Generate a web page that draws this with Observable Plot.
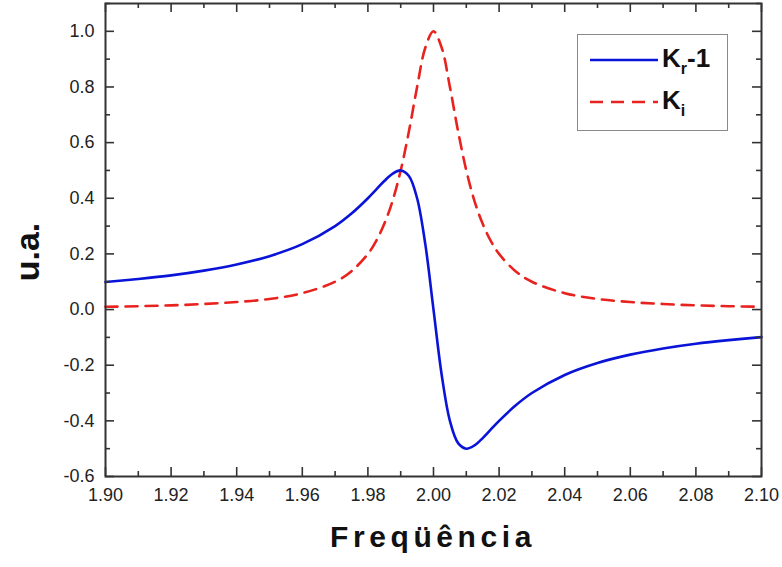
<!DOCTYPE html>
<html>
<head>
<meta charset="utf-8">
<script src="https://cdn.jsdelivr.net/npm/d3@7"></script>
<script src="https://cdn.jsdelivr.net/npm/@observablehq/plot@0.6"></script>
<style>
  html, body { margin: 0; padding: 0; background: #fff; }
  #wrap { position: relative; width: 782px; height: 567px; font-family: "Liberation Sans", Arial, sans-serif; }
  #ylab { position: absolute; left: 27px; top: 252px; transform: translate(-50%, -50%) rotate(-90deg); font-weight: bold; font-size: 34px; color: #111; white-space: nowrap; }
  #xlab { position: absolute; left: 433px; top: 520px; transform: translateX(-50%); font-weight: bold; font-size: 30px; letter-spacing: 4.6px; color: #111; white-space: nowrap; }
  #legend { position: absolute; left: 577px; top: 34px; width: 151px; height: 97px; border: 1px solid #8a8a8a; background: #fff; box-sizing: border-box; }
  .lg { position: absolute; font-weight: bold; font-size: 26px; color: #111; white-space: nowrap; }
  .lg sub { font-size: 16px; vertical-align: -7px; line-height: 0; }
</style>
</head>
<body>
<div id="wrap">
  <div id="chart"></div>
  <div id="ylab">u.a.</div>
  <div id="xlab">Freqüência</div>
  <div id="legend">
    <svg width="151" height="97" style="position:absolute;left:0;top:0">
      <line x1="12" x2="80" y1="25" y2="25" stroke="#0a14d8" stroke-width="2.5"/>
      <line x1="12" x2="80" y1="67" y2="67" stroke="#e8221e" stroke-width="2.5" stroke-dasharray="13,8"/>
    </svg>
    <div class="lg" style="left:84px; top:8px;">K<sub>r</sub>-1</div>
    <div class="lg" style="left:84px; top:50px;">K<sub>i</sub></div>
  </div>
</div>
<script>
// Frequency samples
const freq = [1.90, 1.91, 1.92, 1.93, 1.94, 1.95, 1.96, 1.97, 1.975, 1.98, 1.9825, 1.985, 1.9875, 1.99, 1.9925, 1.995, 1.9975, 2.00,
              2.0025, 2.005, 2.0075, 2.01, 2.0125, 2.015, 2.0175, 2.02, 2.025, 2.03, 2.04, 2.05, 2.06, 2.07, 2.08, 2.09, 2.10];
// Kr - 1 (blue solid)
const krMinus1 = [0.099, 0.110, 0.123, 0.140, 0.162, 0.192, 0.235, 0.300, 0.345, 0.400, 0.431, 0.462, 0.488, 0.500, 0.480, 0.400, 0.235, 0.000,
                  -0.235, -0.400, -0.480, -0.500, -0.488, -0.462, -0.431, -0.400, -0.345, -0.300, -0.235, -0.192, -0.162, -0.140, -0.123, -0.110, -0.099];
// Ki (red dashed)
const ki = [0.010, 0.012, 0.015, 0.020, 0.027, 0.038, 0.059, 0.100, 0.138, 0.200, 0.246, 0.308, 0.390, 0.500, 0.640, 0.800, 0.941, 1.000,
            0.941, 0.800, 0.640, 0.500, 0.390, 0.308, 0.246, 0.200, 0.138, 0.100, 0.059, 0.038, 0.027, 0.020, 0.015, 0.012, 0.010];

const xTicks = [1.90, 1.92, 1.94, 1.96, 1.98, 2.00, 2.02, 2.04, 2.06, 2.08, 2.10];
const xMinor = [1.91, 1.93, 1.95, 1.97, 1.99, 2.01, 2.03, 2.05, 2.07, 2.09];
const yTicks = [-0.6, -0.4, -0.2, 0.0, 0.2, 0.4, 0.6, 0.8, 1.0];
const yMinor = [-0.5, -0.3, -0.1, 0.1, 0.3, 0.5, 0.7, 0.9, 1.1];

const W = 782, H = 567, mL = 105, mR = 21, mT = 3, mB = 91;
const iw = W - mL - mR, ih = H - mT - mB;
const MAJ = 9, MIN = 5;

const krData = freq.map((f, i) => ({f, v: krMinus1[i]}));
const kiData = freq.map((f, i) => ({f, v: ki[i]}));

const ts = {stroke: "#333", strokeWidth: 1.6};

const chart = Plot.plot({
  width: W, height: H,
  marginLeft: mL, marginRight: mR, marginTop: mT, marginBottom: mB,
  style: {fontFamily: "'Liberation Sans', Arial, sans-serif", fontSize: "18px", color: "#222"},
  x: {domain: [1.90, 2.10]},
  y: {domain: [-0.6, 1.1]},
  marks: [
    Plot.line(kiData, {x: "f", y: "v", stroke: "#e8221e", strokeWidth: 2.6, strokeDasharray: "12,8", curve: "catmull-rom"}),
    Plot.line(krData, {x: "f", y: "v", stroke: "#0a14d8", strokeWidth: 2.6, curve: "catmull-rom"}),
    Plot.tickX(xTicks, {x: d => d, insetTop: ih - MAJ, ...ts}),
    Plot.tickX(xMinor, {x: d => d, insetTop: ih - MIN, ...ts}),
    Plot.tickX(xTicks, {x: d => d, insetBottom: ih - MAJ, ...ts}),
    Plot.tickX(xMinor, {x: d => d, insetBottom: ih - MIN, ...ts}),
    Plot.tickY(yTicks, {y: d => d, insetRight: iw - MAJ, ...ts}),
    Plot.tickY(yMinor, {y: d => d, insetRight: iw - MIN, ...ts}),
    Plot.tickY(yTicks, {y: d => d, insetLeft: iw - MAJ, ...ts}),
    Plot.tickY(yMinor, {y: d => d, insetLeft: iw - MIN, ...ts}),
    Plot.axisX(xTicks, {tickSize: 0, tickPadding: 12, tickFormat: d => d.toFixed(2), label: null}),
    Plot.axisY(yTicks, {tickSize: 0, tickPadding: 11, tickFormat: d => d.toFixed(1), label: null}),
    Plot.frame({stroke: "#333", strokeWidth: 2})
  ]
});
document.getElementById("chart").appendChild(chart);
</script>
</body>
</html>
